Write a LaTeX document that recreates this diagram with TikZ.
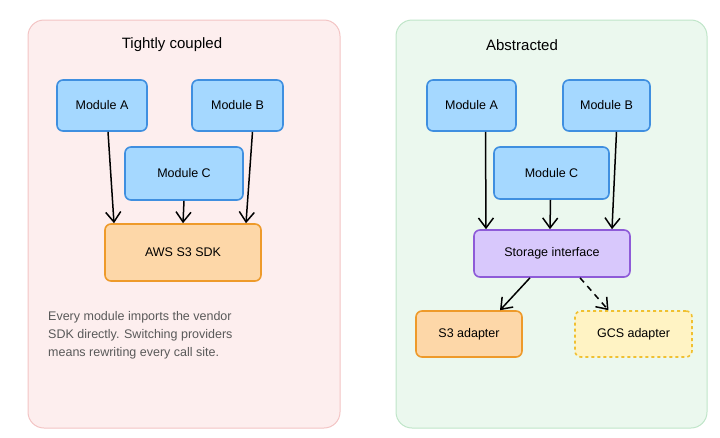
\documentclass[tikz,border=0pt]{standalone}
\usepackage{fontspec}
\setmainfont{Liberation Sans}
\usetikzlibrary{arrows.meta}
\definecolor{pinkbg}{HTML}{FDEEEE}
\definecolor{pinkbd}{HTML}{F3C4C4}
\definecolor{greenbg}{HTML}{EBF8EE}
\definecolor{greenbd}{HTML}{BFE5C8}
\definecolor{bluef}{HTML}{A5D8FF}
\definecolor{blueb}{HTML}{3F8FE0}
\definecolor{orf}{HTML}{FDD7A8}
\definecolor{orb}{HTML}{EE9A2A}
\definecolor{puf}{HTML}{D8C8FC}
\definecolor{pub}{HTML}{8E5BD8}
\definecolor{yef}{HTML}{FFF3C4}
\definecolor{yeb}{HTML}{F0C030}
\begin{document}
\begin{tikzpicture}[x=1pt,y=-1pt,
  box/.style={draw,line width=1.6pt,rounded corners=6pt,font=\fontsize{12.5}{15}\selectfont},
  mod/.style={box,fill=bluef,draw=blueb},
  arr/.style={-{Straight Barb[length=10pt,width=15pt]},line width=1.5pt,black}]
\useasboundingbox (0,0) rectangle (720,437);
\draw[fill=pinkbg,draw=pinkbd,line width=1pt,rounded corners=16pt] (28,20) rectangle (340,428);
\draw[fill=greenbg,draw=greenbd,line width=1pt,rounded corners=16pt] (396,20) rectangle (707,428);
\node[font=\fontsize{15}{18}\selectfont] (t1) at (172,45) {Tightly coupled};
\node[font=\fontsize{15}{18}\selectfont] (t2) at (522,45) {Abstracted};
\node[mod,minimum width=90pt,minimum height=51pt] (a1) at (102,105.5) {Module A};
\node[mod,minimum width=91pt,minimum height=51pt] (b1) at (237.5,105.5) {Module B};
\node[mod,minimum width=118pt,minimum height=53pt] (c1) at (184,173.5) {Module C};
\node[box,fill=orf,draw=orb,minimum width=156pt,minimum height=57pt] (s1) at (183,252.5) {AWS S3 SDK};
\draw[arr] ([xshift=6pt]a1.south) -- ([xshift=-69pt]s1.north);
\draw[arr] ([xshift=15pt]b1.south) -- ([xshift=63pt]s1.north);
\draw[arr] (c1.south) -- (s1.north);
\node[align=left,anchor=north west,font=\fontsize{12.5}{15}\selectfont,text=black!65,inner sep=0pt] (txt) at (48,311)
 {Every module imports the vendor\\[3pt]SDK directly. Switching providers\\[3pt]means rewriting every call site.};
\node[mod,minimum width=89pt,minimum height=51pt] (a2) at (471.5,105.5) {Module A};
\node[mod,minimum width=87pt,minimum height=51pt] (b2) at (606.5,105.5) {Module B};
\node[mod,minimum width=115pt,minimum height=52pt] (c2) at (551.5,173) {Module C};
\node[box,fill=puf,draw=pub,minimum width=156pt,minimum height=47pt] (si) at (552,253.5) {Storage interface};
\node[box,fill=orf,draw=orb,minimum width=106pt,minimum height=46pt] (s3) at (469,334) {S3 adapter};
\node[box,fill=yef,draw=yeb,dashed,minimum width=117pt,minimum height=46pt] (gc) at (633.5,334) {GCS adapter};
\draw[arr] ([xshift=14pt]a2.south) -- ([xshift=-66pt]si.north);
\draw[arr] ([xshift=10pt]b2.south) -- ([xshift=60pt]si.north);
\draw[arr] ([xshift=-1pt]c2.south) -- ([xshift=-2pt]si.north);
\draw[arr] ([xshift=-22pt]si.south) -- ([xshift=31pt]s3.north);
\draw[arr,dash pattern=on 6pt off 5pt] ([xshift=28pt]si.south) -- ([xshift=-25pt]gc.north);
\end{tikzpicture}
\end{document}
